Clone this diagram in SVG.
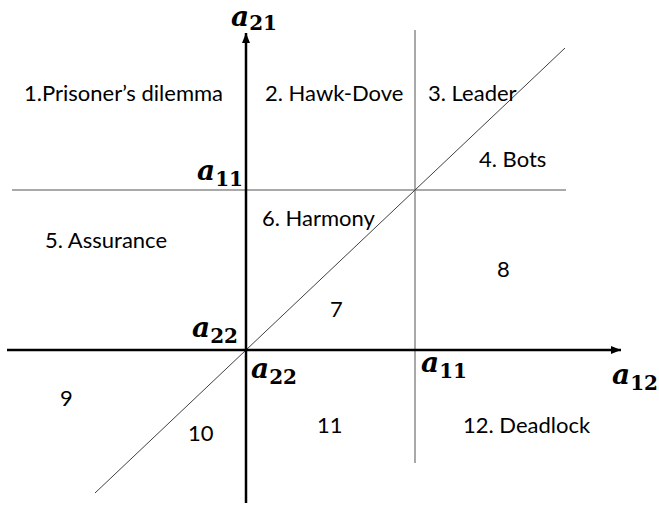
<svg xmlns="http://www.w3.org/2000/svg" width="659" height="507" viewBox="0 0 659 507">
<style>
.lbl{font-family:Lato,"Open Sans","Liberation Sans",sans-serif;font-size:22px;fill:#000}
.m{font-family:"DejaVu Serif","Liberation Serif",serif;font-weight:bold;font-style:italic;font-size:28px;fill:#000}
.s{font-family:"DejaVu Serif","Liberation Serif",serif;font-weight:bold;font-style:normal;font-size:20px}
.axis{stroke:#000;stroke-width:2.5;fill:none}
.grid{stroke:#8c8c8c;stroke-width:1.5;fill:none}
.diag{stroke:#404040;stroke-width:1;fill:none}
</style>
<defs>
<marker id="ah" viewBox="0 0 10 8" refX="10" refY="4" markerWidth="10" markerHeight="8" markerUnits="userSpaceOnUse" orient="auto">
<path d="M0,0 L10,4 L0,8 z" fill="#000"/>
</marker>
</defs>
<rect width="659" height="507" fill="#fff"/>
<g id="connectors">
<line class="grid" x1="415" y1="30" x2="415" y2="463"/>
<line class="grid" x1="12" y1="190" x2="566" y2="190"/>
<line class="diag" x1="95" y1="493" x2="565" y2="48"/>
<line class="axis" x1="246" y1="503" x2="246" y2="33" marker-end="url(#ah)"/>
<line class="axis" x1="7" y1="350" x2="621" y2="350" marker-end="url(#ah)"/>
</g>
<g id="r1"><text class="lbl" x="24" y="101">1.Prisoner’s dilemma</text></g>
<g id="r2"><text class="lbl" x="265" y="101">2. Hawk-Dove</text></g>
<g id="r3"><text class="lbl" x="428" y="101">3. Leader</text></g>
<g id="r4"><text class="lbl" x="479" y="167">4. Bots</text></g>
<g id="r5"><text class="lbl" x="45" y="248">5. Assurance</text></g>
<g id="r6"><text class="lbl" x="262" y="226">6. Harmony</text></g>
<g id="r7"><text class="lbl" x="330" y="317">7</text></g>
<g id="r8"><text class="lbl" x="497" y="277">8</text></g>
<g id="r9"><text class="lbl" x="60" y="406">9</text></g>
<g id="r10"><text class="lbl" x="188" y="441">10</text></g>
<g id="r11"><text class="lbl" x="317" y="433">11</text></g>
<g id="r12"><text class="lbl" x="463" y="433">12. Deadlock</text></g>
<g id="a21"><text class="m" x="231" y="26">a<tspan class="s" dy="4">21</tspan></text></g>
<g id="a11-top"><text class="m" x="197" y="180">a<tspan class="s" dy="6">11</tspan></text></g>
<g id="a22-left"><text class="m" x="192" y="337">a<tspan class="s" dy="6">22</tspan></text></g>
<g id="a22-bottom"><text class="m" x="251" y="378">a<tspan class="s" dy="6">22</tspan></text></g>
<g id="a11-bottom"><text class="m" x="421" y="372">a<tspan class="s" dy="6">11</tspan></text></g>
<g id="a12"><text class="m" x="612" y="384">a<tspan class="s" dy="6">12</tspan></text></g>
</svg>
